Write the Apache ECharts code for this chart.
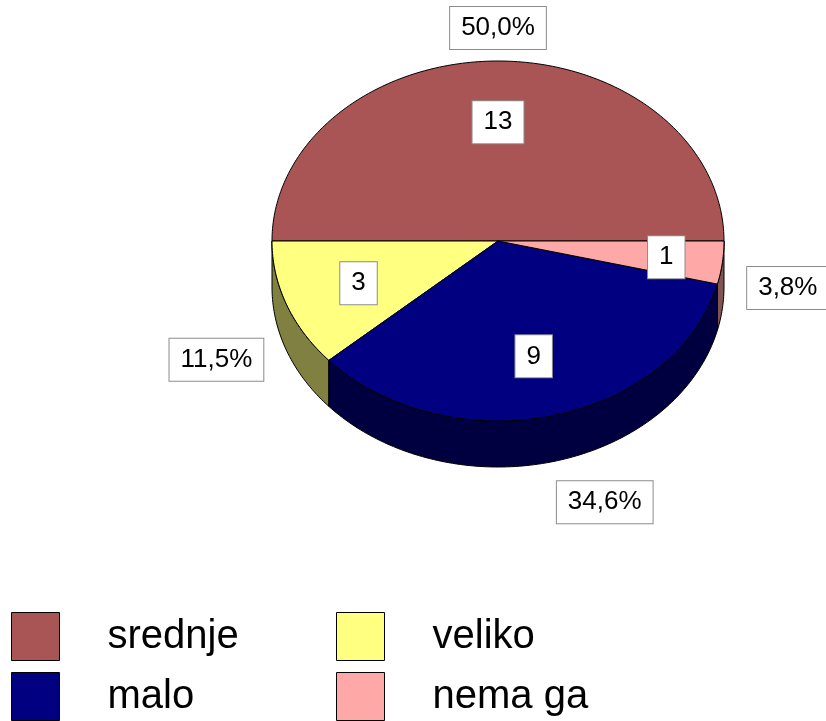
<!DOCTYPE html>
<html>
<head>
<meta charset="utf-8">
<script src="https://cdn.jsdelivr.net/npm/echarts@6/dist/echarts.min.js"></script>
<style>
  html, body { margin: 0; padding: 0; background: #fff; }
  #chart { width: 826px; height: 721px; }
</style>
</head>
<body>
<div id="chart"></div>
<script>
// podaci
const categories = ['srednje', 'veliko', 'malo', 'nema ga'];
const counts = [13, 3, 9, 1];
const topColors = ['#AA5555', '#FFFF80', '#000080', '#FFA8A8'];
const sideColors = ['#552A2A', '#808040', '#000040', '#805454'];

const FONT = '"Liberation Sans", Arial, sans-serif';
const total = counts.reduce((a, b) => a + b, 0);

// geometrija elipse (3D pita)
const cx = 498, cy = 241, rx = 226, ry = 180, depth = 46;

function pt(deg, k, dy) {
  const t = deg * Math.PI / 180;
  return [cx + rx * k * Math.cos(t), cy - ry * k * Math.sin(t) + (dy || 0)];
}

function sliceAngles(i) {
  let start = 0;
  for (let j = 0; j < i; j++) start += counts[j] / total * 360;
  return [start, start + counts[i] / total * 360];
}

function arc(a1, a2, dy) {
  const pts = [];
  const n = Math.max(2, Math.ceil(Math.abs(a2 - a1)));
  for (let s = 0; s <= n; s++) pts.push(pt(a1 + (a2 - a1) * s / n, 1, dy));
  return pts;
}

function makeSlice(i) {
  return function (params, api) {
    const [a1, a2] = sliceAngles(i);
    const children = [];
    // bocni zid (vidljiv samo u donjoj polovini)
    const w1 = Math.max(a1, 180), w2 = Math.min(a2, 360);
    if (w2 > w1) {
      const top = arc(w1, w2, 0);
      const bottom = arc(w2, w1, depth);
      children.push({
        type: 'polygon',
        shape: { points: top.concat(bottom) },
        style: { fill: sideColors[i], stroke: '#000', lineWidth: 1 }
      });
    }
    children.push({
      type: 'polygon',
      shape: { points: [[cx, cy]].concat(arc(a1, a2, 0)) },
      style: { fill: topColors[i], stroke: '#000', lineWidth: 1 }
    });
    return { type: 'group', children: children };
  };
}

const boxStyle = {
  fill: '#000',
  font: '26px ' + FONT,
  backgroundColor: '#fff',
  borderColor: '#8c8c8c',
  borderWidth: 1,
  padding: [8, 11, 8, 11]
};

function renderLabels(params, api) {
  const children = [];
  counts.forEach((v, i) => {
    const [a1, a2] = sliceAngles(i);
    const mid = (a1 + a2) / 2;
    const t = mid * Math.PI / 180;
    const c = Math.cos(t), s = Math.sin(t);

    // vrijednost unutar isjecka (uski isjecci malo dalje od sredista)
    const p = pt(mid, (a2 - a1) < 20 ? 0.75 : 0.66, 0);
    children.push({
      type: 'text',
      z2: 10,
      style: Object.assign({}, boxStyle, {
        text: String(v), x: p[0], y: p[1], align: 'center', verticalAlign: 'middle'
      })
    });

    // postotak izvan
    const drop = s < 0 ? depth * Math.min(1, -s * 4) : 0;
    const o = pt(mid, 1, drop);
    const m = s > 0.5 ? 12 : (s < -0.5 ? 20 : 25);
    const x = o[0] + m * c, y = o[1] - m * s;
    const pct = (v / total * 100).toFixed(1).replace('.', ',') + '%';
    children.push({
      type: 'text',
      z2: 10,
      style: Object.assign({}, boxStyle, {
        text: pct, x: x, y: y,
        align: c > 0.2 ? 'left' : (c < -0.2 ? 'right' : 'center'),
        verticalAlign: s > 0.5 ? 'bottom' : (s < -0.5 ? 'top' : 'middle')
      })
    });
  });
  return { type: 'group', children: children };
}

const series = categories.map((name, i) => ({
  name: name,
  type: 'custom',
  coordinateSystem: 'none',
  z: 2,
  itemStyle: { color: topColors[i] },
  renderItem: makeSlice(i),
  data: [counts[i]]
}));
series.push({
  name: 'labels',
  type: 'custom',
  coordinateSystem: 'none',
  z: 5,
  renderItem: renderLabels,
  data: [0]
});

// legenda: dva stupca, dva retka
const legendLeft = [11, 336, 11, 336];
const legendTop = [612, 612, 672, 672];

const legends = categories.map((name, i) => ({
  data: [name],
  left: legendLeft[i],
  top: legendTop[i],
  padding: 0,
  icon: 'rect',
  itemWidth: 48,
  itemHeight: 48,
  selectedMode: false,
  itemStyle: { borderColor: '#000', borderWidth: 1 },
  textStyle: { fontSize: 40, color: '#000', fontFamily: FONT, padding: [0, 0, 0, 43] }
}));

const chart = echarts.init(document.getElementById('chart'));
chart.setOption({
  animation: false,
  backgroundColor: '#fff',
  legend: legends,
  series: series
});
</script>
</body>
</html>
